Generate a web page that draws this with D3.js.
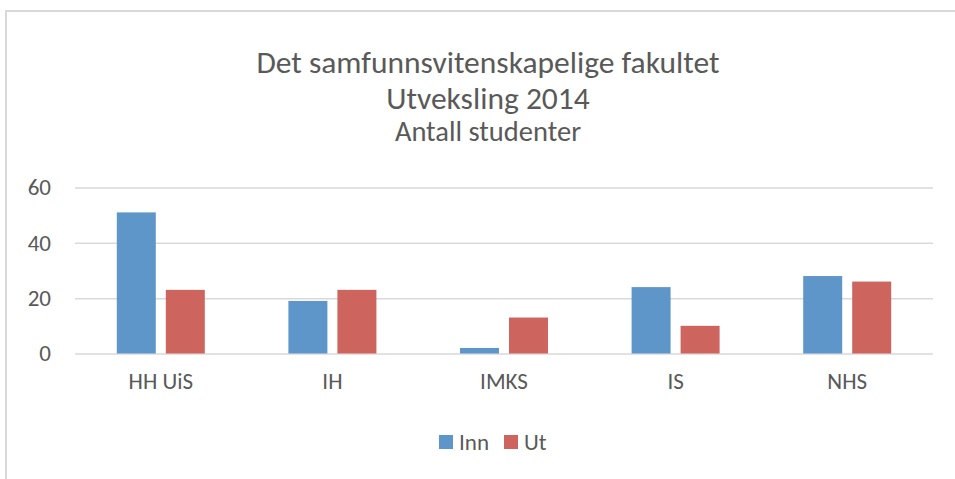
<!DOCTYPE html>
<html>
<head>
<meta charset="utf-8">
<script src="https://cdn.jsdelivr.net/npm/d3@7"></script>
<style>
  body { margin: 0; background: #fff; }
  text { font-family: Carlito, Lato, "Open Sans", sans-serif; fill: #595959; }
</style>
</head>
<body>
<div id="vis1"></div>
<script>
// chart data
let categories = ['HH UiS', 'IH', 'IMKS', 'IS', 'NHS']
let series = ['Inn', 'Ut']
let inn = [51, 19, 2, 24, 28]
let ut = [23, 23, 13, 10, 26]
let yTicks = [0, 20, 40, 60]
let titleLines = ['Det samfunnsvitenskapelige fakultet', 'Utveksling 2014', 'Antall studenter']
let colors = ['#5f96c9', '#cd645e']

let W = 955, H = 479
let plot = { left: 75, right: 933, top: 187.5, bottom: 353.5 }

let svg = d3.select('#vis1')
  .append('svg')
  .attr('width', W)
  .attr('height', H)

// outer chart frame (cropped at right and bottom)
svg.append('rect')
  .attr('x', 6)
  .attr('y', 11)
  .attr('width', W + 10)
  .attr('height', H + 10)
  .attr('fill', '#fff')
  .attr('stroke', '#d9d9d9')
  .attr('stroke-width', 2)

// titles
let titleY = [62, 98, 131]
let titleSize = [31.5, 31.5, 28.5]
titleLines.forEach(function(t, i) {
  svg.append('text')
    .attr('x', 488)
    .attr('y', titleY[i])
    .attr('dy', '0.35em')
    .attr('text-anchor', 'middle')
    .style('font-size', titleSize[i] + 'px')
    .text(t)
})

let y = d3.scaleLinear().domain([0, 60]).range([plot.bottom, plot.top])
let x = d3.scaleBand().domain(categories).range([plot.left, plot.right])
let x1 = d3.scaleBand().domain(series).range([-44, 44]).paddingInner(10 / 49)

// gridlines + y labels
let yAxis = d3.axisLeft(y).tickValues(yTicks).tickSize(-(plot.right - plot.left)).tickPadding(24)
let gy = svg.append('g')
  .attr('transform', 'translate(' + plot.left + ',0)')
  .call(yAxis)
gy.select('.domain').remove()
gy.selectAll('.tick line').attr('stroke', '#d9d9d9').attr('stroke-width', 1.5)
gy.selectAll('.tick text')
  .style('font-size', '23px')
  .attr('fill', '#595959')
  .style('font-family', 'Carlito, Lato, "Open Sans", sans-serif')

// category labels
let xAxis = d3.axisBottom(x).tickSize(0).tickPadding(19)
let gx = svg.append('g')
  .attr('transform', 'translate(0,' + plot.bottom + ')')
  .call(xAxis)
gx.select('.domain').remove()
gx.selectAll('.tick text')
  .style('font-size', '23px')
  .attr('fill', '#595959')
  .style('font-family', 'Carlito, Lato, "Open Sans", sans-serif')

// bars
let rows = categories.map(function(c, i) {
  return { cat: c, values: [{ s: 'Inn', v: inn[i] }, { s: 'Ut', v: ut[i] }] }
})

let groups = svg.append('g').selectAll('g')
  .data(rows)
  .join('g')
  .attr('transform', d => 'translate(' + (x(d.cat) + x.bandwidth() / 2) + ',0)')

groups.selectAll('rect')
  .data(d => d.values)
  .join('rect')
  .attr('x', d => x1(d.s))
  .attr('width', x1.bandwidth())
  .attr('y', d => y(d.v))
  .attr('height', d => y(0) - y(d.v))
  .attr('fill', (d, i) => colors[i])

// legend
let legendX = [439, 504]
series.forEach(function(s, i) {
  svg.append('rect')
    .attr('x', legendX[i])
    .attr('y', 435)
    .attr('width', 14)
    .attr('height', 14)
    .attr('fill', colors[i])
  svg.append('text')
    .attr('x', legendX[i] + 20)
    .attr('y', 442)
    .attr('dy', '0.35em')
    .style('font-size', '23px')
    .text(s)
})
</script>
</body>
</html>
